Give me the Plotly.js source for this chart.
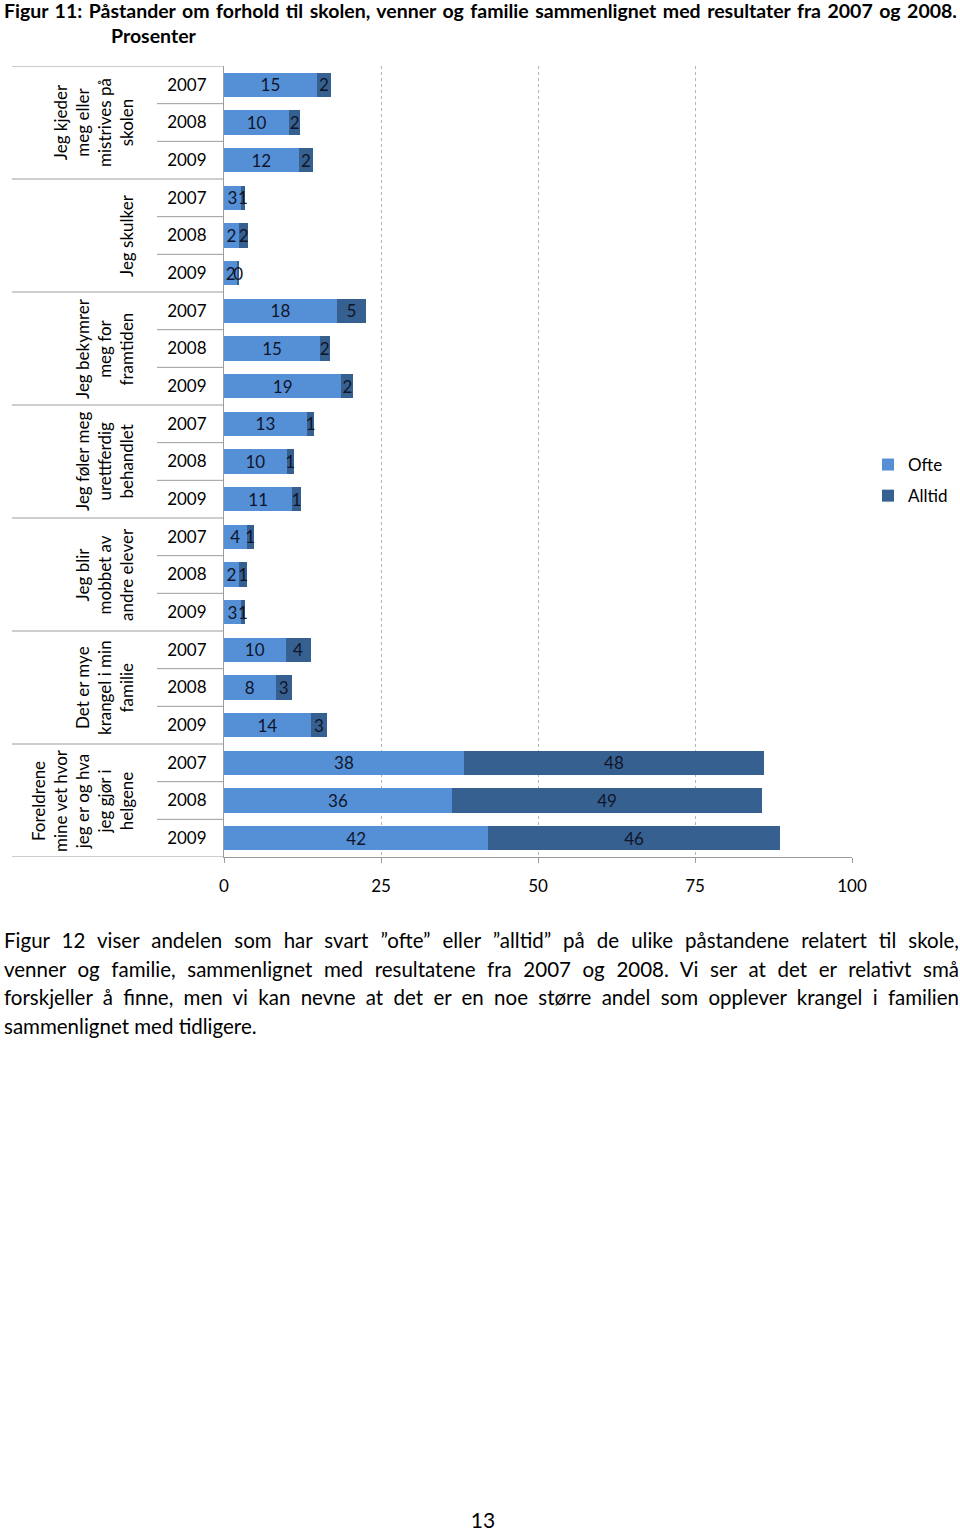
<!DOCTYPE html>
<html>
<head>
<meta charset="utf-8">
<script src="https://cdn.plot.ly/plotly-3.0.1.min.js"></script>
<style>
  html, body { margin: 0; padding: 0; background: #fff; }
  #page { position: relative; width: 960px; height: 1531px; overflow: hidden; font-family: Lato, "Open Sans", sans-serif; color: #000; }
  #chart { position: absolute; left: 0; top: 0; width: 960px; height: 1531px; }
  .title { position: absolute; left: 4px; top: -2px; width: 953px; font-weight: bold; font-size: 19.5px; line-height: 25px; }
  .just { text-align: justify; text-align-last: justify; }
  .para { position: absolute; left: 4px; top: 926px; width: 955px; font-size: 20.5px; line-height: 28.5px; }
  .para .l { text-align: justify; text-align-last: justify; }
  .para .last { text-align: left; }
  .pnum { position: absolute; left: 0; width: 966px; text-align: center; top: 1509px; font-size: 21px; line-height: 22px; }
</style>
</head>
<body>
<div id="page">
  <div id="chart"></div>
  <div class="title">
    <div class="just">Figur 11: Påstander om forhold til skolen, venner og familie sammenlignet med resultater fra 2007 og 2008.</div>
    <div style="padding-left:107px">Prosenter</div>
  </div>
  <div class="para">
    <div class="l">Figur 12 viser andelen som har svart ”ofte” eller ”alltid” på de ulike påstandene relatert til skole,</div>
    <div class="l">venner og familie, sammenlignet med resultatene fra 2007 og 2008. Vi ser at det er relativt små</div>
    <div class="l">forskjeller å finne, men vi kan nevne at det er en noe større andel som opplever krangel i familien</div>
    <div class="last">sammenlignet med tidligere.</div>
  </div>
  <div class="pnum">13</div>
</div>
<script>
// ---- data ----
const groups = [
  "Jeg kjeder<br>meg eller<br>mistrives på<br>skolen",
  "Jeg skulker",
  "Jeg bekymrer<br>meg for<br>framtiden",
  "Jeg føler meg<br>urettferdig<br>behandlet",
  "Jeg blir<br>mobbet av<br>andre elever",
  "Det er mye<br>krangel i min<br>familie",
  "Foreldrene<br>mine vet hvor<br>jeg er og hva<br>jeg gjør i<br>helgene"
];
const years = ["2007", "2008", "2009"];
const ofte   = [14.8, 10.4, 11.9,  2.7, 2.4, 2.1,  18.0, 15.3, 18.7,  13.2, 10.0, 10.9,  3.6, 2.4, 2.7,  9.8, 8.2, 13.8,  38.2, 36.3, 42.1];
const alltid = [ 2.2,  1.7,  2.3,  0.6, 1.5, 0.3,   4.6,  1.5,  1.9,   1.2,  1.1,  1.3,  1.1, 1.3, 0.6,  4.0, 2.6,  2.6,  47.8, 49.4, 46.4];
const seriesNames = ["Ofte", "Alltid"];
const xTicks = [0, 25, 50, 75, 100];

// ---- build ----
const nRows = groups.length * years.length;
const rows = [];
const rowLabels = [];
groups.forEach((g, gi) => years.forEach((y, yi) => { rows.push(gi * years.length + yi); rowLabels.push(y); }));

const lightBlue = '#5590d6';
const darkBlue = '#36608f';
const lineCol = '#9c9c9c';
const fontFam = 'Lato, "Open Sans", sans-serif';

function barTrace(vals, name, color, grp) {
  return {
    type: 'bar', orientation: 'h', y: rows, x: vals, name: name,
    marker: { color: color, line: { width: 0 } },
    text: vals.map(v => String(Math.round(v))),
    textposition: 'inside', insidetextanchor: 'middle', textangle: 0,
    textfont: { family: fontFam, size: 17, color: '#10142a' },
    width: 0.65, legendgroup: grp, hoverinfo: 'skip'
  };
}
const data = [
  barTrace(ofte, seriesNames[0], lightBlue, 'a'),
  barTrace(alltid, seriesNames[1], darkBlue, 'b')
];

const W = 960, H = 1531;
const plotL = 224, plotR = 852;
const pw = plotR - plotL;
const px = x => (x - plotL) / pw;

const shapes = [];
for (let g = 0; g <= groups.length; g++) {
  shapes.push({ type: 'line', xref: 'paper', yref: 'y', x0: px(12), x1: 0, y0: g * 3 - 0.5, y1: g * 3 - 0.5, line: { color: lineCol, width: 1 } });
}
for (let g = 0; g < groups.length; g++) {
  for (let k = 1; k < years.length; k++) {
    const yv = g * 3 + k - 0.5;
    shapes.push({ type: 'line', xref: 'paper', yref: 'y', x0: px(157), x1: 0, y0: yv, y1: yv, line: { color: lineCol, width: 1 } });
  }
}

const annotations = groups.map((g, gi) => ({
  text: g, xref: 'paper', yref: 'y', x: px(139), y: gi * 3 + 1,
  xanchor: 'right', yanchor: 'middle', textangle: -90, align: 'center',
  showarrow: false, font: { family: fontFam, size: 17, color: '#000' }
}));

const layout = {
  width: W, height: H,
  margin: { l: 224, r: W - plotR, t: 66, b: H - 857, pad: 0, autoexpand: false },
  paper_bgcolor: 'rgba(0,0,0,0)', plot_bgcolor: 'rgba(0,0,0,0)',
  font: { family: fontFam, size: 17, color: '#000' },
  barmode: 'stack', bargap: 0.35,
  showlegend: true,
  legend: {
    xref: 'container', yref: 'container',
    x: 868 / W, y: 1 - 447 / H, xanchor: 'left', yanchor: 'top',
    font: { family: fontFam, size: 17, color: '#000' },
    traceorder: 'grouped', tracegroupgap: 6, itemwidth: 30, bgcolor: 'rgba(0,0,0,0)'
  },
  uniformtext: { mode: 'show', minsize: 17 },
  xaxis: {
    range: [0, 100], tickvals: xTicks, ticktext: xTicks.map(String),
    showgrid: true, gridcolor: '#b4b4b4', griddash: 'dot', gridwidth: 1,
    zeroline: false, showline: true, linecolor: lineCol, linewidth: 1,
    ticks: 'outside', ticklen: 5, tickcolor: lineCol, ticklabelstandoff: 9,
    tickfont: { family: fontFam, size: 17, color: '#000' }, fixedrange: true, automargin: false
  },
  yaxis: {
    range: [nRows - 0.5, -0.5], tickvals: rows, ticktext: rowLabels,
    showgrid: false, zeroline: false, showline: true, linecolor: lineCol, linewidth: 1,
    ticks: '', ticklabelstandoff: 13,
    tickfont: { family: fontFam, size: 17, color: '#000' }, fixedrange: true, automargin: false
  },
  shapes: shapes,
  annotations: annotations
};

Plotly.newPlot('chart', data, layout, { staticPlot: true, displayModeBar: false });
</script>
</body>
</html>
